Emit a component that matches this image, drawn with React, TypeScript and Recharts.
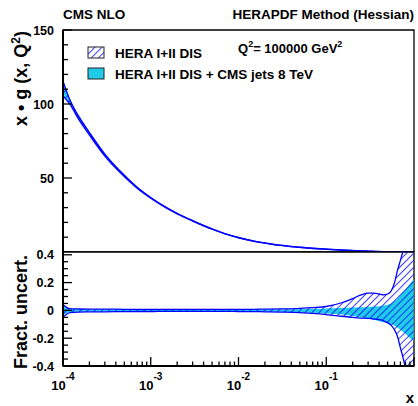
import React from "react";
import { ComposedChart, Area, XAxis, YAxis, ReferenceArea } from "recharts";

// sampling points in x (log axis)
const xValues = [
  0.0001, 0.00012, 0.00015, 0.0002, 0.0003, 0.0005, 0.0007, 0.001, 0.0015, 0.002, 0.003,
  0.005, 0.007, 0.01, 0.015, 0.02, 0.03, 0.05, 0.07, 0.1, 0.15, 0.2, 0.25, 0.3, 0.35, 0.4,
  0.45, 0.5, 0.55, 0.6, 0.65, 0.7, 0.75, 0.8, 0.85, 0.9, 0.95, 0.99,
];

// central x*g(x,Q2) at Q2 = 100000 GeV2
const xgCentral = [
  111, 101.5, 91, 80, 65.5, 51.4, 43.4, 36.6, 30, 26, 21.1, 15.5, 12.3, 9.7, 7.3, 6.05, 4.5,
  3.2, 2.46, 1.9, 1.3, 0.95, 0.7, 0.52, 0.4, 0.3, 0.22, 0.16, 0.12, 0.08, 0.055, 0.035,
  0.022, 0.012, 0.006, 0.002, 0.0005, 0,
];

// fractional uncertainty, HERA I+II DIS
const heraHi = [
  0.04, 0.012, 0.01, 0.009, 0.009, 0.008, 0.008, 0.007, 0.007, 0.007, 0.007, 0.007, 0.007,
  0.007, 0.008, 0.009, 0.011, 0.015, 0.02, 0.028, 0.055, 0.085, 0.112, 0.124, 0.124, 0.118,
  0.112, 0.118, 0.14, 0.2, 0.29, 0.36, 0.43, 0.52, 0.62, 0.75, 0.9, 1.0,
];
const heraLo = [
  -0.048, -0.016, -0.012, -0.011, -0.01, -0.009, -0.008, -0.008, -0.007, -0.007, -0.007,
  -0.007, -0.007, -0.008, -0.009, -0.01, -0.012, -0.016, -0.022, -0.03, -0.042, -0.05,
  -0.055, -0.058, -0.062, -0.067, -0.075, -0.088, -0.108, -0.14, -0.19, -0.27, -0.34,
  -0.42, -0.52, -0.65, -0.8, -0.95,
];

// fractional uncertainty, HERA I+II DIS + CMS jets 8 TeV
const cmsHi = [
  0.03, 0.01, 0.008, 0.007, 0.007, 0.006, 0.006, 0.005, 0.005, 0.005, 0.005, 0.005, 0.005,
  0.005, 0.006, 0.006, 0.007, 0.009, 0.011, 0.014, 0.017, 0.02, 0.022, 0.025, 0.028, 0.03,
  0.035, 0.04, 0.05, 0.065, 0.085, 0.11, 0.13, 0.15, 0.17, 0.19, 0.21, 0.22,
];
const cmsLo = [
  -0.035, -0.012, -0.009, -0.008, -0.008, -0.007, -0.006, -0.006, -0.005, -0.005, -0.005,
  -0.005, -0.005, -0.006, -0.007, -0.008, -0.01, -0.013, -0.017, -0.022, -0.03, -0.04,
  -0.05, -0.058, -0.068, -0.078, -0.085, -0.092, -0.1, -0.11, -0.125, -0.14, -0.155,
  -0.17, -0.185, -0.2, -0.21, -0.22,
];

const xTicks = [
  0.0001, 0.0002, 0.0003, 0.0004, 0.0005, 0.0006, 0.0007, 0.0008, 0.0009,
  0.001, 0.002, 0.003, 0.004, 0.005, 0.006, 0.007, 0.008, 0.009,
  0.01, 0.02, 0.03, 0.04, 0.05, 0.06, 0.07, 0.08, 0.09,
  0.1, 0.2, 0.3, 0.4, 0.5, 0.6, 0.7, 0.8, 0.9, 1,
];
const xLabelExponents = ["-4", "-3", "-2", "-1"];
const topYTicks = [0, 10, 20, 30, 40, 50, 60, 70, 80, 90, 100, 110, 120, 130, 140, 150];
const topYLabels = [50, 100, 150];
const fracYTicks = [
  -0.4, -0.35, -0.3, -0.25, -0.2, -0.15, -0.1, -0.05, 0, 0.05, 0.1, 0.15, 0.2, 0.25, 0.3,
  0.35, 0.4,
];
const fracYLabels = ["-0.4", "-0.2", "0", "0.2", "0.4"];

const topData = xValues.map((x, i) => ({
  x,
  hera: [xgCentral[i] * (1 + heraLo[i]), xgCentral[i] * (1 + heraHi[i])],
  cms: [xgCentral[i] * (1 + cmsLo[i]), xgCentral[i] * (1 + cmsHi[i])],
}));
const fracData = xValues.map((x, i) => ({
  x,
  hera: [heraLo[i], heraHi[i]],
  cms: [cmsLo[i], cmsHi[i]],
}));

const FONT = "'Liberation Sans', Arial, Helvetica, sans-serif";
const BLUE = "#0000ff";
const CYAN = "#1fcbe6";

const isDecade = (v: number) => Math.abs(Math.log10(v) - Math.round(Math.log10(v))) < 1e-6;

const XTick = (props: any) => {
  const { x, y, payload, withLabels } = props;
  const v = payload.value;
  const major = isDecade(v);
  const exp = Math.round(Math.log10(v));
  const label = major && withLabels ? xLabelExponents[exp + 4] : undefined;
  return (
    <g>
      <line x1={x} x2={x} y1={y} y2={y - (major ? 9 : 4.5)} stroke="#000" strokeWidth={1.3} />
      {label && (
        <text x={x} y={y + 24} textAnchor="middle" fontFamily={FONT} fontWeight="bold" fontSize={13} fill="#000">
          <tspan>10</tspan>
          <tspan dy={-10} fontSize={10}>{label}</tspan>
        </text>
      )}
    </g>
  );
};

const TopYTick = (props: any) => {
  const { x, y, payload } = props;
  const v = payload.value;
  const major = v % 50 === 0;
  return (
    <g>
      <line x1={x} x2={x + (major ? 9 : 5)} y1={y} y2={y} stroke="#000" strokeWidth={1.3} />
      {topYLabels.includes(v) && (
        <text x={x - 9} y={y} dy="0.36em" textAnchor="end" fontFamily={FONT} fontWeight="bold" fontSize={12.5} fill="#000">
          {v}
        </text>
      )}
    </g>
  );
};

const FracYTick = (props: any) => {
  const { x, y, payload } = props;
  const v = payload.value;
  const idx = Math.round((v + 0.4) / 0.2);
  const major = Math.abs(v + 0.4 - idx * 0.2) < 1e-6;
  return (
    <g>
      <line x1={x} x2={x + (major ? 9 : 5)} y1={y} y2={y} stroke="#000" strokeWidth={1.3} />
      {major && (
        <text x={x - 9} y={y} dy="0.36em" textAnchor="end" fontFamily={FONT} fontWeight="bold" fontSize={12.5} fill="#000">
          {fracYLabels[idx]}
        </text>
      )}
    </g>
  );
};

const HatchDefs = ({ id }: { id: string }) => (
  <defs>
    <pattern id={id} patternUnits="userSpaceOnUse" width={5} height={5} patternTransform="rotate(45)">
      <line x1={0} y1={0} x2={0} y2={5} stroke={BLUE} strokeWidth={1.5} />
    </pattern>
  </defs>
);

export default function App() {
  return (
    <div style={{ position: "absolute", left: 0, top: 0, width: 418, height: 406, background: "#fff" }}>
      <div style={{ position: "absolute", left: 0, top: 0 }}>
        <ComposedChart width={418} height={252} data={topData} margin={{ top: 30, right: 4, left: 0, bottom: 0 }}>
          <HatchDefs id="hatchTop" />
          <XAxis
            dataKey="x"
            type="number"
            scale="log"
            domain={[0.0001, 1]}
            allowDataOverflow
            ticks={xTicks}
            interval={0}
            height={0}
            tickSize={0}
            tickMargin={0}
            tickLine={false}
            axisLine={{ stroke: "#000", strokeWidth: 2 }}
            tick={<XTick withLabels={false} />}
          />
          <YAxis
            type="number"
            domain={[0, 150]}
            allowDataOverflow
            ticks={topYTicks}
            interval={0}
            width={63}
            tickSize={0}
            tickMargin={0}
            tickLine={false}
            axisLine={{ stroke: "#000", strokeWidth: 2 }}
            tick={<TopYTick />}
          />
          <ReferenceArea x1={0.0001} x2={1} y1={0} y2={150} fill="none" fillOpacity={0} stroke="#000" strokeWidth={1.3} />
          <Area dataKey="cms" type="monotone" fill={CYAN} fillOpacity={1} stroke="none" isAnimationActive={false} />
          <Area dataKey="hera" type="monotone" fill="url(#hatchTop)" fillOpacity={1} stroke={BLUE} strokeWidth={1.4} isAnimationActive={false} />
        </ComposedChart>
      </div>
      <div style={{ position: "absolute", left: 0, top: 242 }}>
        <ComposedChart width={418} height={164} data={fracData} margin={{ top: 10, right: 4, left: 0, bottom: 0 }}>
          <HatchDefs id="hatchFrac" />
          <XAxis
            dataKey="x"
            type="number"
            scale="log"
            domain={[0.0001, 1]}
            allowDataOverflow
            ticks={xTicks}
            interval={0}
            height={40}
            tickSize={0}
            tickMargin={0}
            tickLine={false}
            axisLine={{ stroke: "#000", strokeWidth: 2 }}
            tick={<XTick withLabels={true} />}
          />
          <YAxis
            type="number"
            domain={[-0.4, 0.42]}
            allowDataOverflow
            ticks={fracYTicks}
            interval={0}
            width={63}
            tickSize={0}
            tickMargin={0}
            tickLine={false}
            axisLine={{ stroke: "#000", strokeWidth: 2 }}
            tick={<FracYTick />}
          />
          <ReferenceArea x1={0.0001} x2={1} y1={-0.4} y2={0.42} fill="none" fillOpacity={0} stroke="#000" strokeWidth={1.3} />
          <Area dataKey="cms" type="monotone" fill={CYAN} fillOpacity={1} stroke="none" isAnimationActive={false} />
          <Area dataKey="hera" type="monotone" fill="url(#hatchFrac)" fillOpacity={1} stroke={BLUE} strokeWidth={1.3} isAnimationActive={false} />
        </ComposedChart>
      </div>
      <svg width={418} height={406} style={{ position: "absolute", left: 0, top: 0, pointerEvents: "none" }}>
        <HatchDefs id="hatchLegend" />
        <g fontFamily={FONT} fontWeight="bold" fill="#000">
          <text x={63} y={19} fontSize={13.5}>CMS NLO</text>
          <text x={414} y={19} fontSize={13.5} textAnchor="end">HERAPDF Method (Hessian)</text>
          <rect x={88} y={47} width={16} height={11} fill="url(#hatchLegend)" stroke="#222" strokeWidth={1} />
          <text x={115} y={58} fontSize={13.5}>HERA I+II DIS</text>
          <rect x={88} y={68} width={16} height={11} fill={CYAN} stroke="#222" strokeWidth={1} />
          <text x={115} y={79} fontSize={13.5}>HERA I+II DIS + CMS jets 8 TeV</text>
          <text x={238} y={53} fontSize={13}>
            <tspan>Q</tspan>
            <tspan dy={-6} fontSize={9}>2</tspan>
            <tspan dy={6}>= 100000 GeV</tspan>
            <tspan dy={-6} fontSize={9}>2</tspan>
          </text>
          <text transform="translate(27,31) rotate(-90)" textAnchor="end" fontSize={18}>
            <tspan>x • g (x, Q</tspan>
            <tspan dy={-7} fontSize={12}>2</tspan>
            <tspan dy={7}>)</tspan>
          </text>
          <text transform="translate(27,312) rotate(-90)" textAnchor="middle" fontSize={18}>Fract. uncert.</text>
          <text x={414} y={403} textAnchor="end" fontSize={15}>x</text>
        </g>
      </svg>
    </div>
  );
}
